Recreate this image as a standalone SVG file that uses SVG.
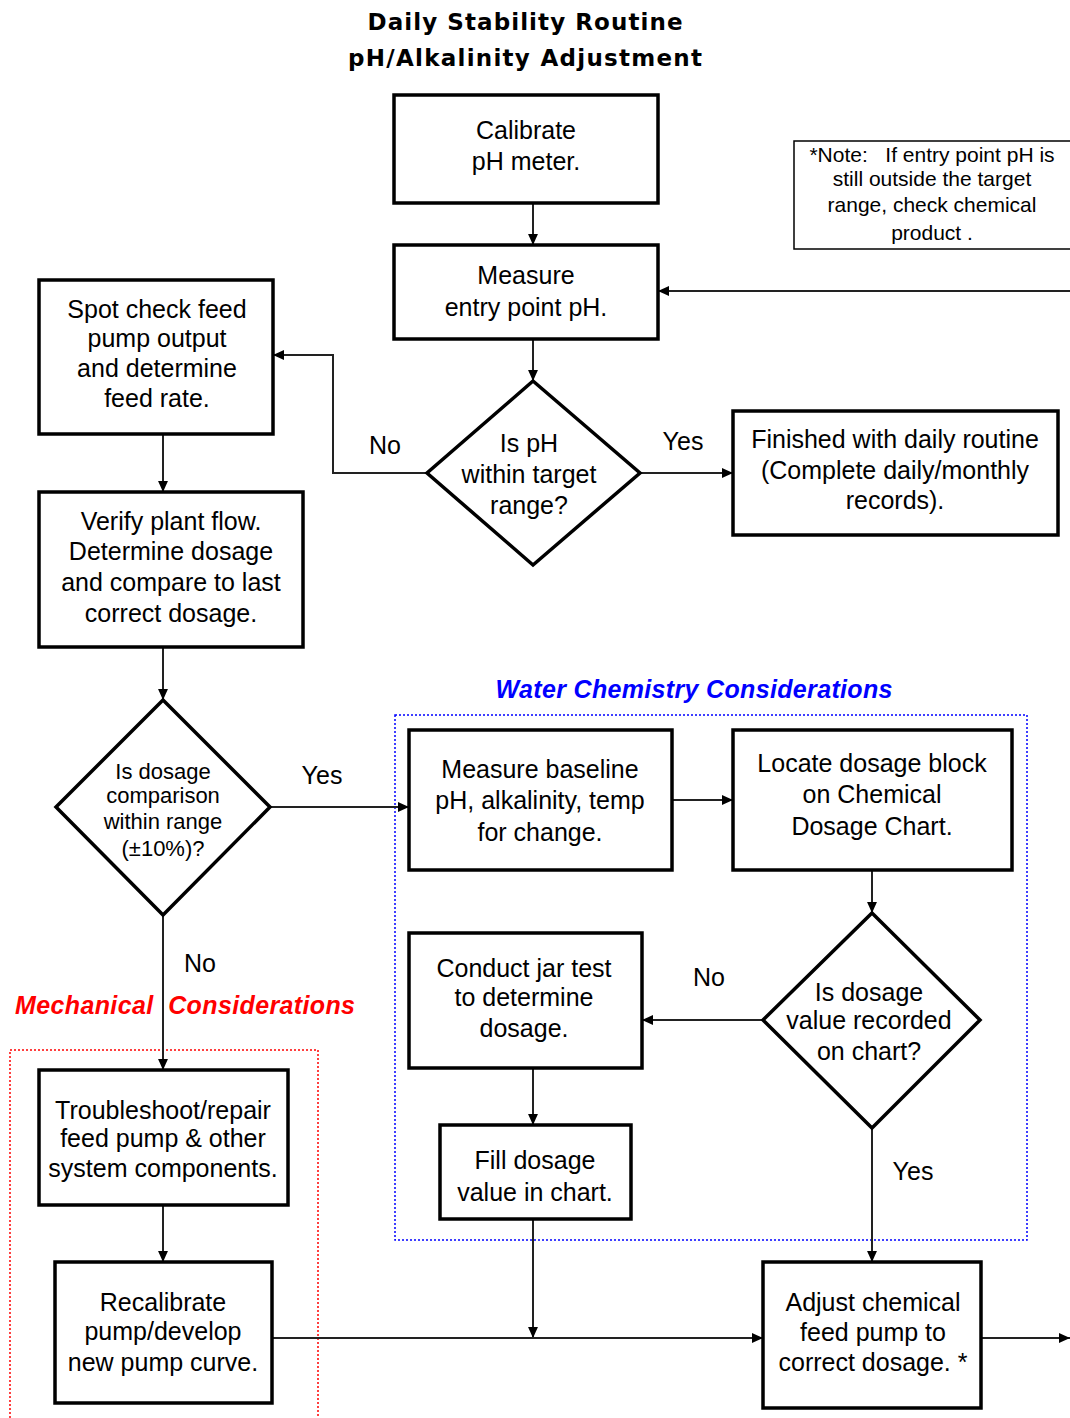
<svg xmlns="http://www.w3.org/2000/svg" width="1070" height="1418" viewBox="0 0 1070 1418">
<style>
.box{fill:#fff;stroke:#000;stroke-width:3.5}
.note{fill:#fff;stroke:#000;stroke-width:1.5}
.t{font-family:"Liberation Sans",Arial,sans-serif;font-size:25px;fill:#000;text-anchor:middle}
.s{font-size:22px}
.n{font-size:21px}
.lbl{font-family:"Liberation Sans",Arial,sans-serif;font-size:25px;fill:#000;text-anchor:middle}
.title{font-family:"DejaVu Sans",Verdana,sans-serif;font-weight:bold;font-size:23px;fill:#000;text-anchor:middle}
.sec{font-family:"Liberation Sans",Arial,sans-serif;font-weight:bold;font-style:italic;font-size:25px}
.c{fill:none;stroke:#222;stroke-width:2}
</style>
<defs>
<marker id="ah" viewBox="0 0 10 10" refX="10" refY="5" markerWidth="11" markerHeight="11" markerUnits="userSpaceOnUse" orient="auto">
<path d="M0,0.5 L10,5 L0,9.5 z" fill="#000"/>
</marker>
</defs>
<rect width="1070" height="1418" fill="#fff"/>

<g id="title">
<text class="title" x="525" y="30" textLength="315" lengthAdjust="spacing">Daily Stability Routine</text>
<text class="title" x="525" y="66" textLength="354" lengthAdjust="spacing">pH/Alkalinity Adjustment</text>
</g>

<g id="zones">
<rect x="395" y="715" width="632" height="525" fill="none" stroke="#0000ff" stroke-width="1.5" stroke-dasharray="2,2"/>
<rect x="10" y="1050" width="308" height="380" fill="none" stroke="#ff0000" stroke-width="1.5" stroke-dasharray="2,2"/>
<text class="sec" x="694" y="698" fill="#0000ff" text-anchor="middle" textLength="397" lengthAdjust="spacing">Water Chemistry Considerations</text>
<text class="sec" x="185" y="1014" fill="#ff0000" text-anchor="middle" textLength="340" lengthAdjust="spacing">Mechanical&#160; Considerations</text>
</g>

<g id="connectors">
<path class="c" d="M533,203 V245" marker-end="url(#ah)"/>
<path class="c" d="M1070,291 H658" marker-end="url(#ah)"/>
<path class="c" d="M533,339 V381" marker-end="url(#ah)"/>
<path class="c" d="M427,473 H333 V355 H273" marker-end="url(#ah)"/>
<path class="c" d="M640,473 H733" marker-end="url(#ah)"/>
<path class="c" d="M163,434 V492" marker-end="url(#ah)"/>
<path class="c" d="M163,647 V700" marker-end="url(#ah)"/>
<path class="c" d="M270,807 H409" marker-end="url(#ah)"/>
<path class="c" d="M163,915 V1070" marker-end="url(#ah)"/>
<path class="c" d="M163,1205 V1262" marker-end="url(#ah)"/>
<path class="c" d="M672,800 H733" marker-end="url(#ah)"/>
<path class="c" d="M872,870 V913" marker-end="url(#ah)"/>
<path class="c" d="M763,1020 H642" marker-end="url(#ah)"/>
<path class="c" d="M533,1068 V1125" marker-end="url(#ah)"/>
<path class="c" d="M533,1219 V1338" marker-end="url(#ah)"/>
<path class="c" d="M272,1338 H763" marker-end="url(#ah)"/>
<path class="c" d="M872,1128 V1262" marker-end="url(#ah)"/>
<path class="c" d="M981,1338 H1070" marker-end="url(#ah)"/>
<text class="lbl" x="385" y="454">No</text>
<text class="lbl" x="683" y="450">Yes</text>
<text class="lbl" x="322" y="784">Yes</text>
<text class="lbl" x="200" y="972">No</text>
<text class="lbl" x="709" y="986">No</text>
<text class="lbl" x="913" y="1180">Yes</text>
</g>

<g id="calibrate">
<rect class="box" x="394" y="95" width="264" height="108"/>
<text class="t" x="526" y="139">Calibrate</text>
<text class="t" x="526" y="170">pH meter.</text>
</g>

<g id="note">
<rect class="note" x="794" y="141" width="280" height="108"/>
<text class="t n" x="932" y="162">*Note:&#160;&#160; If entry point pH is</text>
<text class="t n" x="932" y="186">still outside the target</text>
<text class="t n" x="932" y="212">range, check chemical</text>
<text class="t n" x="932" y="240">product .</text>
</g>

<g id="measure-entry">
<rect class="box" x="394" y="245" width="264" height="94"/>
<text class="t" x="526" y="284">Measure</text>
<text class="t" x="526" y="316">entry point pH.</text>
</g>

<g id="ph-decision">
<polygon class="box" points="533,381 640,473 533,565 427,473"/>
<text class="t" x="529" y="452">Is pH</text>
<text class="t" x="529" y="483">within target</text>
<text class="t" x="529" y="514">range?</text>
</g>

<g id="finished">
<rect class="box" x="733" y="411" width="325" height="124"/>
<text class="t" x="895" y="448">Finished with daily routine</text>
<text class="t" x="895" y="479">(Complete daily/monthly</text>
<text class="t" x="895" y="509">records).</text>
</g>

<g id="spot-check">
<rect class="box" x="39" y="280" width="234" height="154"/>
<text class="t" x="157" y="318">Spot check feed</text>
<text class="t" x="157" y="347">pump output</text>
<text class="t" x="157" y="377">and determine</text>
<text class="t" x="157" y="407">feed rate.</text>
</g>

<g id="verify">
<rect class="box" x="39" y="492" width="264" height="155"/>
<text class="t" x="171" y="530">Verify plant flow.</text>
<text class="t" x="171" y="560">Determine dosage</text>
<text class="t" x="171" y="591">and compare to last</text>
<text class="t" x="171" y="622">correct dosage.</text>
</g>

<g id="dosage-decision">
<polygon class="box" points="163,700 270,807 163,915 56,807"/>
<text class="t s" x="163" y="779">Is dosage</text>
<text class="t s" x="163" y="803">comparison</text>
<text class="t s" x="163" y="829">within range</text>
<text class="t s" x="163" y="856">(±10%)?</text>
</g>

<g id="troubleshoot">
<rect class="box" x="39" y="1070" width="249" height="135"/>
<text class="t" x="163" y="1119">Troubleshoot/repair</text>
<text class="t" x="163" y="1147">feed pump &amp; other</text>
<text class="t" x="163" y="1177">system components.</text>
</g>

<g id="recalibrate">
<rect class="box" x="55" y="1262" width="217" height="141"/>
<text class="t" x="163" y="1311">Recalibrate</text>
<text class="t" x="163" y="1340">pump/develop</text>
<text class="t" x="163" y="1371">new pump curve.</text>
</g>

<g id="measure-baseline">
<rect class="box" x="409" y="730" width="263" height="140"/>
<text class="t" x="540" y="778">Measure baseline</text>
<text class="t" x="540" y="809">pH, alkalinity, temp</text>
<text class="t" x="540" y="841">for change.</text>
</g>

<g id="locate">
<rect class="box" x="733" y="730" width="279" height="140"/>
<text class="t" x="872" y="772">Locate dosage block</text>
<text class="t" x="872" y="803">on Chemical</text>
<text class="t" x="872" y="835">Dosage Chart.</text>
</g>

<g id="recorded-decision">
<polygon class="box" points="872,913 980,1020 872,1128 763,1020"/>
<text class="t" x="869" y="1001">Is dosage</text>
<text class="t" x="869" y="1029">value recorded</text>
<text class="t" x="869" y="1060">on chart?</text>
</g>

<g id="jar-test">
<rect class="box" x="409" y="933" width="233" height="135"/>
<text class="t" x="524" y="977">Conduct jar test</text>
<text class="t" x="524" y="1006">to determine</text>
<text class="t" x="524" y="1037">dosage.</text>
</g>

<g id="fill-dosage">
<rect class="box" x="440" y="1125" width="191" height="94"/>
<text class="t" x="535" y="1169">Fill dosage</text>
<text class="t" x="535" y="1201">value in chart.</text>
</g>

<g id="adjust">
<rect class="box" x="763" y="1262" width="218" height="146"/>
<text class="t" x="873" y="1311">Adjust chemical</text>
<text class="t" x="873" y="1341">feed pump to</text>
<text class="t" x="873" y="1371">correct dosage. *</text>
</g>
</svg>
